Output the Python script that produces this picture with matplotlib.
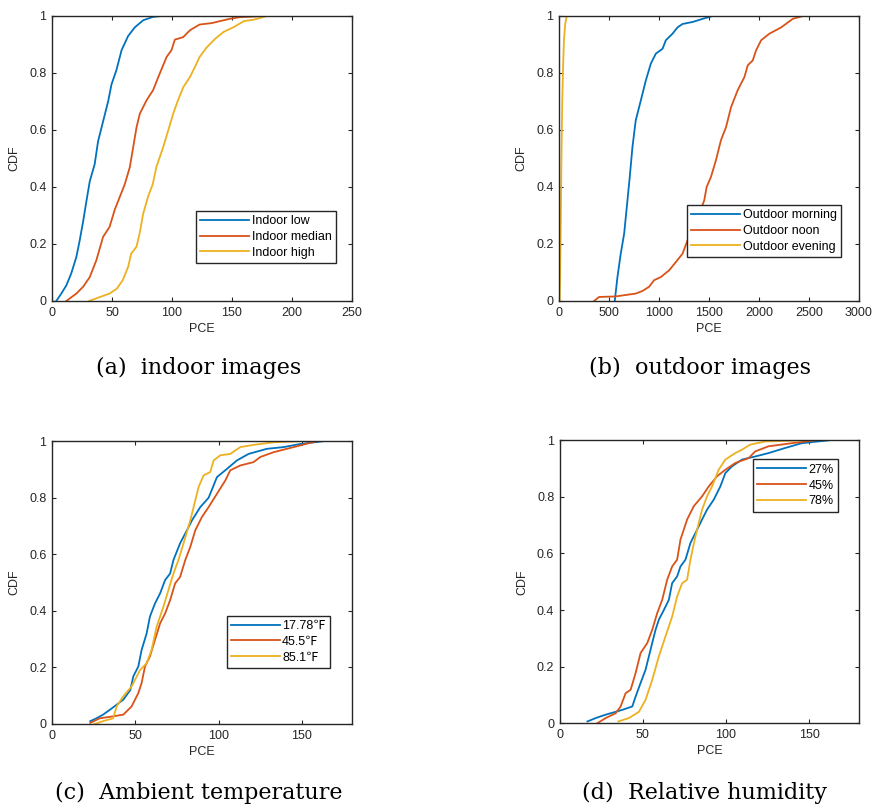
import numpy as np
import matplotlib
matplotlib.use("Agg")
import matplotlib.pyplot as plt

plt.rcParams["font.family"] = ["Liberation Sans", "Noto Sans CJK SC", "DejaVu Sans"]

# MATLAB default colours
C_BLUE, C_RED, C_YEL = "#0072BD", "#D95319", "#EDB120"
AX_COL = "#262626"

# ---------------- (a) indoor images ----------------
a_low_x = [3.6, 7.8, 12, 16, 20.3, 23, 26, 28.7, 31.5, 35.6, 38.4, 42.6, 46.8, 49.6,
           53.7, 58, 63.5, 69, 76, 84.3, 91.3]
a_low_y = [0, 0.026, 0.055, 0.096, 0.154, 0.21, 0.28, 0.35, 0.42, 0.48, 0.56, 0.63, 0.70,
           0.76, 0.81, 0.88, 0.93, 0.96, 0.985, 0.997, 1.0]
a_med_x = [12, 20.3, 26, 31.5, 37, 42.6, 48, 52.3, 56.5, 60.7, 64.9, 67.7, 70.5, 73.2,
           78.8, 84.3, 90, 95.5, 99.6, 102.4, 109.4, 115, 123, 133, 140, 148, 157, 179, 212]
a_med_y = [0, 0.026, 0.05, 0.084, 0.143, 0.225, 0.26, 0.32, 0.365, 0.41, 0.47, 0.54, 0.61,
           0.657, 0.704, 0.74, 0.80, 0.856, 0.88, 0.917, 0.926, 0.95, 0.97, 0.975, 0.982,
           0.99, 0.996, 1.0, 1.0]
a_high_x = [31, 40, 48, 54, 59, 63.5, 66, 70.4, 73, 76, 80, 84, 87, 92.7, 97, 101, 105,
            109.4, 115, 119, 123, 129, 136, 143, 151, 160, 168, 176, 179]
a_high_y = [0, 0.014, 0.026, 0.043, 0.073, 0.12, 0.166, 0.19, 0.236, 0.306, 0.365, 0.41,
            0.47, 0.54, 0.60, 0.657, 0.704, 0.75, 0.786, 0.82, 0.856, 0.89, 0.92, 0.944,
            0.96, 0.982, 0.987, 0.996, 1.0]

# ---------------- (b) outdoor images ----------------
b_mor_x = [558, 585, 618, 652, 685, 708, 735, 768, 819, 869, 919, 969, 1036, 1069, 1136,
           1186, 1236, 1336, 1437, 1537]
b_mor_y = [0, 0.084, 0.166, 0.236, 0.353, 0.435, 0.54, 0.634, 0.704, 0.774, 0.833, 0.868,
           0.885, 0.915, 0.938, 0.96, 0.972, 0.979, 0.99, 1.0]
b_noon_x = [351, 401, 568, 768, 835, 902, 952, 1019, 1103, 1170, 1236, 1286, 1353, 1403,
            1453, 1477, 1520, 1570, 1620, 1671, 1721, 1788, 1855, 1888, 1938, 1971, 2022,
            2105, 2222, 2339, 2440, 2740]
b_noon_y = [0, 0.014, 0.016, 0.026, 0.035, 0.05, 0.073, 0.084, 0.108, 0.137, 0.166, 0.213,
            0.26, 0.306, 0.353, 0.40, 0.435, 0.494, 0.564, 0.61, 0.68, 0.74, 0.786, 0.827,
            0.844, 0.879, 0.915, 0.938, 0.96, 0.99, 1.0, 1.0]
b_eve_x = [7, 12, 17, 25, 33, 42, 50, 62, 77]
b_eve_y = [0, 0.1, 0.236, 0.5, 0.70, 0.83, 0.915, 0.97, 1.0]

# ---------------- (c) ambient temperature ----------------
c_t1_x = [23, 26.7, 30.7, 34.7, 38.8, 42.8, 47, 48.8, 51.8, 53.8, 56.8, 58.8, 61.8, 64.9,
          67.9, 70.9, 72.9, 76.9, 81, 84, 89, 94, 99, 105, 111, 118, 129, 139, 149, 163]
c_t1_y = [0.01, 0.02, 0.033, 0.05, 0.068, 0.086, 0.12, 0.168, 0.203, 0.262, 0.32, 0.38,
          0.426, 0.462, 0.509, 0.532, 0.58, 0.639, 0.685, 0.72, 0.767, 0.80, 0.873, 0.902,
          0.932, 0.955, 0.973, 0.979, 0.99, 1.0]
c_t2_x = [23, 28.7, 36.7, 42.8, 47.8, 51.8, 53.8, 55.8, 58.8, 61.8, 64.9, 67.9, 70.9, 73.9,
          76.9, 80, 83, 86, 90, 94, 99, 104, 107, 113, 121, 125, 133, 141, 149, 159]
c_t2_y = [0.004, 0.02, 0.027, 0.033, 0.062, 0.109, 0.145, 0.203, 0.239, 0.297, 0.356,
          0.391, 0.438, 0.497, 0.52, 0.58, 0.626, 0.685, 0.732, 0.767, 0.814, 0.861, 0.897,
          0.914, 0.926, 0.944, 0.961, 0.973, 0.985, 1.0]
c_t3_x = [25.7, 30.7, 36.7, 38.8, 42.8, 47.8, 52.8, 56.8, 59.8, 62.8, 66.9, 69.9, 72.9,
          75.9, 78.9, 83, 85, 88, 91, 95, 97, 101, 107, 113, 121, 133, 149]
c_t3_y = [0, 0.01, 0.02, 0.062, 0.098, 0.133, 0.19, 0.215, 0.262, 0.344, 0.415, 0.474,
          0.532, 0.58, 0.638, 0.72, 0.767, 0.838, 0.879, 0.891, 0.932, 0.95, 0.955, 0.979,
          0.987, 0.996, 1.0]

# ---------------- (d) relative humidity ----------------
d_h1_x = [16.6, 21.6, 27.6, 37.6, 43.6, 45.6, 48.6, 51.6, 54.6, 57.6, 59.6, 62.6, 65.6,
          67.6, 70.6, 72.6, 75.6, 78.6, 82.6, 85.6, 88.6, 92.6, 96.6, 99.6, 103.6, 109.6,
          117.6, 125.6, 135.6, 145.6, 161.7]
d_h1_y = [0.006, 0.018, 0.03, 0.047, 0.059, 0.094, 0.142, 0.189, 0.26, 0.33, 0.366, 0.40,
          0.436, 0.495, 0.519, 0.554, 0.578, 0.637, 0.684, 0.72, 0.755, 0.79, 0.837, 0.884,
          0.908, 0.932, 0.943, 0.955, 0.973, 0.99, 1.0]
d_h2_x = [22.6, 27.6, 33.6, 36.6, 39.6, 42.6, 45.6, 48.6, 52.6, 55.6, 58.6, 61.6, 64.6,
          67.6, 70.6, 72.6, 76.6, 80.6, 85.6, 89.6, 94.6, 99.6, 105.6, 113.6, 117.6, 125.6,
          139.6, 153.6]
d_h2_y = [0, 0.018, 0.035, 0.059, 0.106, 0.118, 0.177, 0.248, 0.283, 0.33, 0.389, 0.436,
          0.507, 0.554, 0.578, 0.649, 0.72, 0.767, 0.802, 0.837, 0.873, 0.896, 0.92, 0.937,
          0.961, 0.979, 0.99, 1.0]
d_h3_x = [35.2, 41.6, 47.6, 51.6, 55.6, 59.6, 63.6, 67.6, 70.6, 73.6, 76.6, 78.6, 81.6,
          85.6, 88.6, 91.6, 95.6, 99.6, 105.6, 109.6, 114.6, 123.6, 145.6]
d_h3_y = [0.006, 0.018, 0.04, 0.083, 0.153, 0.236, 0.307, 0.377, 0.448, 0.495, 0.507,
          0.578, 0.66, 0.755, 0.802, 0.837, 0.896, 0.932, 0.955, 0.967, 0.985, 0.996, 1.0]

panels = [
    dict(rect=[0.0596, 0.6275, 0.344, 0.3527], xlim=250, xticks=[0, 50, 100, 150, 200, 250],
         series=[(a_low_x, a_low_y, "Indoor low"), (a_med_x, a_med_y, "Indoor median"),
                 (a_high_x, a_high_y, "Indoor high")],
         leg=(0.48, 0.133), caption="(a)  indoor images", cap_xy=(0.228, 0.5446)),
    dict(rect=[0.641, 0.6275, 0.344, 0.3527], xlim=3000,
         xticks=[0, 500, 1000, 1500, 2000, 2500, 3000],
         series=[(b_mor_x, b_mor_y, "Outdoor morning"), (b_noon_x, b_noon_y, "Outdoor noon"),
                 (b_eve_x, b_eve_y, "Outdoor evening")],
         leg=(0.427, 0.154), caption="(b)  outdoor images", cap_xy=(0.803, 0.5446)),
    dict(rect=[0.0596, 0.104, 0.344, 0.350], xlim=180, xticks=[0, 50, 100, 150],
         series=[(c_t1_x, c_t1_y, "17.78\u2109"), (c_t2_x, c_t2_y, "45.5\u2109"),
                 (c_t3_x, c_t3_y, "85.1\u2109")],
         leg=(0.582, 0.198), caption="(c)  Ambient temperature", cap_xy=(0.228, 0.0186)),
    dict(rect=[0.642, 0.105, 0.343, 0.350], xlim=180, xticks=[0, 50, 100, 150],
         series=[(d_h1_x, d_h1_y, "27%"), (d_h2_x, d_h2_y, "45%"), (d_h3_x, d_h3_y, "78%")],
         leg=(0.645, 0.748), caption="(d)  Relative humidity", cap_xy=(0.808, 0.0186)),
]

fig = plt.figure(figsize=(8.72, 8.08), dpi=100)

for p in panels:
    ax = fig.add_axes(p["rect"])
    for (xs, ys, lab), col in zip(p["series"], [C_BLUE, C_RED, C_YEL]):
        ax.plot(xs, ys, color=col, lw=1.3, label=lab)
    ax.set_xlim(0, p["xlim"])
    ax.set_ylim(0, 1)
    ax.set_xticks(p["xticks"])
    ax.set_yticks([0, 0.2, 0.4, 0.6, 0.8, 1])
    ax.set_yticklabels(["0", "0.2", "0.4", "0.6", "0.8", "1"])
    ax.tick_params(direction="in", top=True, right=True, length=3, width=0.8,
                   colors=AX_COL, labelsize=9, pad=4)
    for s in ax.spines.values():
        s.set_color(AX_COL)
        s.set_linewidth(1.0)
    ax.set_xlabel("PCE", fontsize=9, color=AX_COL, labelpad=3)
    ax.set_ylabel("CDF", fontsize=9, color=AX_COL, labelpad=6)
    leg = ax.legend(loc="lower left", bbox_to_anchor=p["leg"], fontsize=9,
                    handlelength=3.9, handletextpad=0.2, borderpad=0.35,
                    labelspacing=0.3, borderaxespad=0, fancybox=False, framealpha=1)
    leg.get_frame().set_edgecolor(AX_COL)
    leg.get_frame().set_linewidth(1.0)
    fig.text(p["cap_xy"][0], p["cap_xy"][1], p["caption"], ha="center", va="center",
             fontsize=16, family="DejaVu Serif", color="black")

fig.savefig("out.png", dpi=100)
